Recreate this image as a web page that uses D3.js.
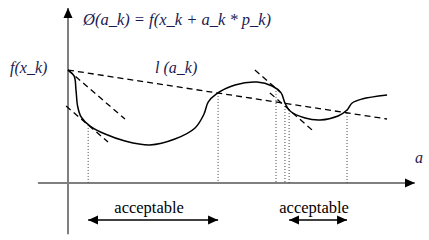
<!DOCTYPE html>
<html>
<head>
<meta charset="utf-8">
<script src="https://cdn.jsdelivr.net/npm/d3@7"></script>
<style>
  body { margin: 0; background: #fff; }
  svg { display: block; }
</style>
</head>
<body>
<div id="chart"></div>
<script>
var width = 429;
var height = 240;
var serif = "Liberation Serif";

// phi(a) curve
var curveA   = [0, 0.19, 0.25, 0.30, 0.41, 0.69, 1.16, 1.78, 2.56, 3.34, 3.97, 4.25, 4.38, 4.63, 5.22, 5.91, 6.38, 6.66, 6.78, 6.94, 7.41, 7.88, 8.44, 8.72, 8.88, 9.19, 9.97];
var curvePhi = [7.06, 6.69, 5.81, 4.81, 4.13, 3.56, 3.06, 2.63, 2.38, 2.75, 3.44, 4.31, 5.06, 5.56, 6.13, 6.31, 6.06, 5.63, 5.0, 4.5, 4.06, 3.94, 4.19, 4.56, 5.0, 5.25, 5.5];

// line l(a_k)
var chordA = [0, 9.97];
var chordPhi = [7.06, 4.0];

// tangent segments [a0, phi0, a1, phi1]
var tangents = [
    [0, 7.06, 1.78, 4.0],
    [-0.06, 4.81, 1.25, 2.56],
    [5.84, 7.06, 6.63, 5.69],
    [6.31, 5.63, 7.63, 3.31]
];

// dotted drop lines
var dropA   = [0.63, 4.69, 6.5, 6.78, 6.91, 8.72];
var dropPhi = [3.63, 5.63, 5.94, 5.0, 4.56, 4.56];

// acceptable ranges
var rangeStart = [0.63, 6.91];
var rangeEnd   = [4.69, 8.72];
var rangeLabel = ["acceptable", "acceptable"];

var x = d3.scaleLinear().domain([0, 10]).range([68, 388]);
var y = d3.scaleLinear().domain([0, 10]).range([183, 23]);

var svg = d3.select("#chart").append("svg")
    .attr("width", width)
    .attr("height", height);

var defs = svg.append("defs");
defs.append("marker")
    .attr("id", "head")
    .attr("viewBox", "0 0 10 10")
    .attr("refX", 10).attr("refY", 5)
    .attr("markerWidth", 10).attr("markerHeight", 10)
    .attr("markerUnits", "userSpaceOnUse")
    .attr("orient", "auto-start-reverse")
    .append("path")
    .attr("d", "M0,0.5 L10,5 L0,9.5 Z")
    .attr("fill", "#000");

// axes
svg.append("line")
    .attr("x1", x(-0.94)).attr("x2", x(10.84))
    .attr("y1", y(0)).attr("y2", y(0))
    .attr("stroke", "#808080").attr("stroke-width", 2)
    .attr("marker-end", "url(#head)");
svg.append("line")
    .attr("x1", x(0)).attr("x2", x(0))
    .attr("y1", y(-3.2)).attr("y2", y(10.94))
    .attr("stroke", "#808080").attr("stroke-width", 2)
    .attr("marker-end", "url(#head)");

// dotted drops
svg.selectAll(".drop")
    .data(dropA)
    .enter().append("line")
    .attr("class", "drop")
    .attr("x1", function(d) { return x(d); })
    .attr("x2", function(d) { return x(d); })
    .attr("y1", function(d, i) { return y(dropPhi[i]); })
    .attr("y2", y(0))
    .attr("stroke", "#444").attr("stroke-width", 1)
    .attr("stroke-dasharray", "1,2");

// chord and tangents
svg.append("line")
    .attr("x1", x(chordA[0])).attr("y1", y(chordPhi[0]))
    .attr("x2", x(chordA[1])).attr("y2", y(chordPhi[1]))
    .attr("stroke", "#000").attr("stroke-width", 1.3)
    .attr("stroke-dasharray", "6,4");

svg.selectAll(".tan")
    .data(tangents)
    .enter().append("line")
    .attr("class", "tan")
    .attr("x1", function(d) { return x(d[0]); })
    .attr("y1", function(d) { return y(d[1]); })
    .attr("x2", function(d) { return x(d[2]); })
    .attr("y2", function(d) { return y(d[3]); })
    .attr("stroke", "#000").attr("stroke-width", 1.3)
    .attr("stroke-dasharray", "6,4");

// curve
var line = d3.line()
    .x(function(d) { return x(d); })
    .y(function(d, i) { return y(curvePhi[i]); })
    .curve(d3.curveCatmullRom.alpha(0.5));

svg.append("path")
    .attr("d", line(curveA))
    .attr("fill", "none")
    .attr("stroke", "#000")
    .attr("stroke-width", 1.5);

// acceptable arrows
svg.selectAll(".rng")
    .data(rangeStart)
    .enter().append("line")
    .attr("class", "rng")
    .attr("x1", function(d) { return x(d); })
    .attr("x2", function(d, i) { return x(rangeEnd[i]); })
    .attr("y1", y(-2.31)).attr("y2", y(-2.31))
    .attr("stroke", "#000").attr("stroke-width", 1.5)
    .attr("marker-start", "url(#head)")
    .attr("marker-end", "url(#head)");

svg.selectAll(".rlab")
    .data(rangeLabel)
    .enter().append("text")
    .attr("class", "rlab")
    .attr("x", function(d, i) { return (x(rangeStart[i]) + x(rangeEnd[i])) / 2 - 4; })
    .attr("y", 213)
    .attr("text-anchor", "middle")
    .attr("font-family", serif)
    .attr("font-size", 16.5)
    .attr("fill", "#000")
    .text(function(d) { return d; });

// labels
var ink = "#1a1a50";
function label(tx, ty, s, fs) {
    svg.append("text")
        .attr("x", tx).attr("y", ty)
        .attr("font-family", serif)
        .attr("font-size", fs)
        .attr("font-style", "italic")
        .attr("fill", ink)
        .text(s);
}
label(83, 25, "Ø(a_k) = f(x_k + a_k * p_k)", 16.5);
label(10, 73, "f(x_k)", 16);
label(155, 73, "l (a_k)", 16);
label(415, 163, "a", 16);
</script>
</body>
</html>
